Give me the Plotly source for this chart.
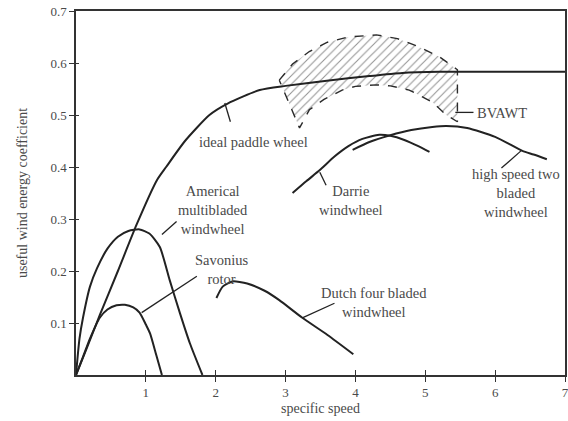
import plotly.graph_objects as go

# ---- data ----
ideal_x = [0, 0.15, 0.34, 0.6, 0.87, 1.16, 1.29, 1.56, 1.91, 2.17, 2.63, 3.0, 3.59, 4.2, 4.67, 5.2, 7.0]
ideal_y = [0, 0.05, 0.115, 0.2, 0.29, 0.375, 0.4, 0.45, 0.5, 0.522, 0.548, 0.556, 0.566, 0.575, 0.581, 0.583, 0.583]

amer_x = [0, 0.05, 0.1, 0.2, 0.3, 0.45, 0.6, 0.75, 0.91, 1.05, 1.2, 1.34, 1.49, 1.63, 1.81]
amer_y = [0, 0.07, 0.11, 0.17, 0.205, 0.243, 0.266, 0.277, 0.28, 0.272, 0.246, 0.183, 0.118, 0.061, 0]

savo_x = [0, 0.1, 0.2, 0.34, 0.45, 0.58, 0.7, 0.82, 0.91, 1.0, 1.06, 1.15, 1.23]
savo_y = [0, 0.035, 0.07, 0.11, 0.126, 0.134, 0.135, 0.13, 0.12, 0.097, 0.08, 0.038, 0]

dutch_x = [2.01, 2.1, 2.24, 2.45, 2.7, 2.91, 3.24, 3.6, 3.97]
dutch_y = [0.148, 0.17, 0.18, 0.176, 0.162, 0.144, 0.11, 0.077, 0.04]

darrie_x = [3.1, 3.3, 3.49, 3.7, 3.9, 4.1, 4.34, 4.5, 4.7, 4.9, 5.06]
darrie_y = [0.35, 0.373, 0.394, 0.42, 0.44, 0.454, 0.462, 0.46, 0.452, 0.44, 0.429]

high_x = [3.96, 4.2, 4.5, 4.8, 5.1, 5.3, 5.6, 6.0, 6.39, 6.55, 6.74]
high_y = [0.433, 0.448, 0.461, 0.471, 0.477, 0.479, 0.475, 0.458, 0.431, 0.424, 0.415]

bvawt_x = [2.91, 3.1, 3.34, 3.6, 3.9, 4.3, 4.6, 4.91, 5.2, 5.46,
           5.46, 5.3, 5.1, 4.77, 4.5, 4.3, 4.0, 3.81, 3.55, 3.34, 3.2, 2.91]
bvawt_y = [0.567, 0.598, 0.622, 0.64, 0.65, 0.654, 0.647, 0.631, 0.612, 0.587,
           0.487, 0.5, 0.525, 0.548, 0.556, 0.558, 0.555, 0.548, 0.53, 0.51, 0.475, 0.567]

# labels: text, x, y
label_text = ["ideal paddle wheel", "Americal<br>multibladed<br>windwheel", "Savonius<br>rotor",
              "Darrie<br>windwheel", "high speed two<br>bladed<br>windwheel",
              "Dutch four bladed<br>windwheel", "BVAWT"]
label_x = [2.54, 1.96, 2.09, 3.94, 6.3, 4.27, 5.71]
label_y = [0.448, 0.317, 0.202, 0.335, 0.35, 0.14, 0.504]
label_anchor = ["center", "center", "center", "center", "center", "center", "left"]

# leader lines: (x0, y0, x1, y1)
leader_x0 = [2.13, 1.23, 0.94, 3.49, 6.37, 3.24, 5.43]
leader_y0 = [0.523, 0.27, 0.12, 0.39, 0.431, 0.11, 0.505]
leader_x1 = [2.21, 1.44, 1.73, 3.58, 6.09, 3.7, 5.69]
leader_y1 = [0.487, 0.295, 0.19, 0.365, 0.398, 0.138, 0.505]

x_ticks = [1, 2, 3, 4, 5, 6, 7]
y_ticks = [0.1, 0.2, 0.3, 0.4, 0.5, 0.6, 0.7]
y_tick_text = ["0.1", "0.2", "0.3", "0.4", "0.5", "0.6", "0.7"]

LINE = "#222222"
TEXT = "#4a4a4a"
FONT = "Liberation Serif, Times New Roman, serif"

fig = go.Figure()

# hatched BVAWT region
fig.add_trace(go.Scatter(
    x=bvawt_x, y=bvawt_y, mode="lines", fill="toself",
    fillcolor="rgba(0,0,0,0)",
    fillpattern=dict(shape="/", size=6, solidity=0.18, fgcolor="#2a2a2a", bgcolor="rgba(255,255,255,0)"),
    line=dict(color="#2a2a2a", width=1.4, dash="dash"), hoverinfo="skip", showlegend=False))

for xs, ys in [(ideal_x, ideal_y), (amer_x, amer_y), (savo_x, savo_y), (dutch_x, dutch_y),
               (darrie_x, darrie_y), (high_x, high_y)]:
    fig.add_trace(go.Scatter(x=xs, y=ys, mode="lines", line=dict(color=LINE, width=2, shape="spline", smoothing=0.6),
                             hoverinfo="skip", showlegend=False))

for x0, y0, x1, y1 in zip(leader_x0, leader_y0, leader_x1, leader_y1):
    fig.add_trace(go.Scatter(x=[x0, x1], y=[y0, y1], mode="lines", line=dict(color=LINE, width=1.3),
                             hoverinfo="skip", showlegend=False))

for t, x, y, a in zip(label_text, label_x, label_y, label_anchor):
    fig.add_annotation(x=x, y=y, text=t, showarrow=False, xanchor=a, yanchor="middle",
                       font=dict(family=FONT, size=14.5, color=TEXT), align="center")

# overlay axes for inner half of crossing ticks
fig.add_trace(go.Scatter(x=[None], y=[None], xaxis="x2", yaxis="y2", showlegend=False))

fig.update_layout(
    width=568, height=421,
    margin=dict(l=76, r=3, t=11, b=46),
    paper_bgcolor="white", plot_bgcolor="white",
    font=dict(family=FONT, color=TEXT, size=12),
    xaxis=dict(range=[0, 7], tickvals=x_ticks, ticks="outside", ticklen=5, tickwidth=1.2,
               tickcolor="#333", showline=True, linecolor="#333", linewidth=1.5, mirror=True,
               showgrid=False, zeroline=False, automargin=False, ticklabeloverflow="allow",
               tickfont=dict(family=FONT, size=13, color=TEXT),
               title=dict(text="specific speed", font=dict(family=FONT, size=14, color=TEXT), standoff=4)),
    yaxis=dict(range=[0, 0.7], tickvals=y_ticks, ticktext=y_tick_text, ticks="outside", ticklen=5,
               tickwidth=1.2, tickcolor="#333", showline=True, linecolor="#333", linewidth=1.5,
               mirror=True, showgrid=False, zeroline=False, automargin=False, ticklabeloverflow="allow",
               tickfont=dict(family=FONT, size=13, color=TEXT),
               title=dict(text="useful wind energy coefficient", font=dict(family=FONT, size=14, color=TEXT),
                          standoff=20)),
    xaxis2=dict(range=[0, 7], overlaying="x", anchor="y2", tickvals=x_ticks, ticks="inside", ticklen=5,
                tickwidth=1.2, tickcolor="#333", showticklabels=False, showline=False, showgrid=False,
                zeroline=False),
    yaxis2=dict(range=[0, 0.7], overlaying="y", anchor="x2", tickvals=y_ticks, ticks="inside", ticklen=3,
                tickwidth=1.2, tickcolor="#333", showticklabels=False, showline=False, showgrid=False,
                zeroline=False),
)

fig.write_html("out.html", config={"displayModeBar": False},
               post_script="document.body.style.margin='0';")
